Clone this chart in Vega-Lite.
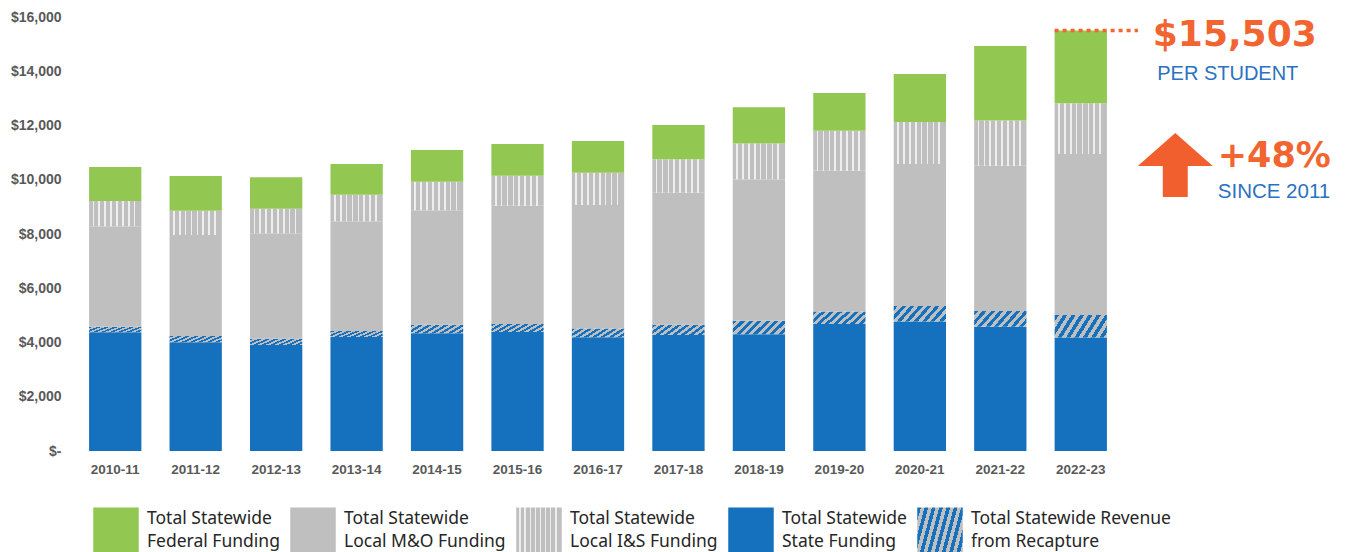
{
  "$schema": "https://vega.github.io/schema/vega-lite/v6.json",
  "width": 1046,
  "height": 434,
  "autosize": {"type": "none"},
  "padding": {"left": 75, "top": 17, "right": 227, "bottom": 101},
  "background": "white",
  "datasets": {
    "funding": [
      {"year": "2010-11", "series": "Total Statewide State Funding", "amount": 4380},
      {"year": "2010-11", "series": "Total Statewide Revenue from Recapture", "amount": 200},
      {"year": "2010-11", "series": "Total Statewide Local M&O Funding", "amount": 3710},
      {"year": "2010-11", "series": "Total Statewide Local I&S Funding", "amount": 930},
      {"year": "2010-11", "series": "Total Statewide Federal Funding", "amount": 1250},
      {"year": "2011-12", "series": "Total Statewide State Funding", "amount": 4010},
      {"year": "2011-12", "series": "Total Statewide Revenue from Recapture", "amount": 230},
      {"year": "2011-12", "series": "Total Statewide Local M&O Funding", "amount": 3720},
      {"year": "2011-12", "series": "Total Statewide Local I&S Funding", "amount": 900},
      {"year": "2011-12", "series": "Total Statewide Federal Funding", "amount": 1280},
      {"year": "2012-13", "series": "Total Statewide State Funding", "amount": 3910},
      {"year": "2012-13", "series": "Total Statewide Revenue from Recapture", "amount": 230},
      {"year": "2012-13", "series": "Total Statewide Local M&O Funding", "amount": 3890},
      {"year": "2012-13", "series": "Total Statewide Local I&S Funding", "amount": 900},
      {"year": "2012-13", "series": "Total Statewide Federal Funding", "amount": 1160},
      {"year": "2013-14", "series": "Total Statewide State Funding", "amount": 4200},
      {"year": "2013-14", "series": "Total Statewide Revenue from Recapture", "amount": 220},
      {"year": "2013-14", "series": "Total Statewide Local M&O Funding", "amount": 4050},
      {"year": "2013-14", "series": "Total Statewide Local I&S Funding", "amount": 980},
      {"year": "2013-14", "series": "Total Statewide Federal Funding", "amount": 1130},
      {"year": "2014-15", "series": "Total Statewide State Funding", "amount": 4340},
      {"year": "2014-15", "series": "Total Statewide Revenue from Recapture", "amount": 310},
      {"year": "2014-15", "series": "Total Statewide Local M&O Funding", "amount": 4230},
      {"year": "2014-15", "series": "Total Statewide Local I&S Funding", "amount": 1050},
      {"year": "2014-15", "series": "Total Statewide Federal Funding", "amount": 1170},
      {"year": "2015-16", "series": "Total Statewide State Funding", "amount": 4390},
      {"year": "2015-16", "series": "Total Statewide Revenue from Recapture", "amount": 290},
      {"year": "2015-16", "series": "Total Statewide Local M&O Funding", "amount": 4360},
      {"year": "2015-16", "series": "Total Statewide Local I&S Funding", "amount": 1110},
      {"year": "2015-16", "series": "Total Statewide Federal Funding", "amount": 1170},
      {"year": "2016-17", "series": "Total Statewide State Funding", "amount": 4190},
      {"year": "2016-17", "series": "Total Statewide Revenue from Recapture", "amount": 330},
      {"year": "2016-17", "series": "Total Statewide Local M&O Funding", "amount": 4550},
      {"year": "2016-17", "series": "Total Statewide Local I&S Funding", "amount": 1190},
      {"year": "2016-17", "series": "Total Statewide Federal Funding", "amount": 1170},
      {"year": "2017-18", "series": "Total Statewide State Funding", "amount": 4280},
      {"year": "2017-18", "series": "Total Statewide Revenue from Recapture", "amount": 370},
      {"year": "2017-18", "series": "Total Statewide Local M&O Funding", "amount": 4870},
      {"year": "2017-18", "series": "Total Statewide Local I&S Funding", "amount": 1240},
      {"year": "2017-18", "series": "Total Statewide Federal Funding", "amount": 1260},
      {"year": "2018-19", "series": "Total Statewide State Funding", "amount": 4300},
      {"year": "2018-19", "series": "Total Statewide Revenue from Recapture", "amount": 500},
      {"year": "2018-19", "series": "Total Statewide Local M&O Funding", "amount": 5220},
      {"year": "2018-19", "series": "Total Statewide Local I&S Funding", "amount": 1320},
      {"year": "2018-19", "series": "Total Statewide Federal Funding", "amount": 1330},
      {"year": "2019-20", "series": "Total Statewide State Funding", "amount": 4680},
      {"year": "2019-20", "series": "Total Statewide Revenue from Recapture", "amount": 460},
      {"year": "2019-20", "series": "Total Statewide Local M&O Funding", "amount": 5190},
      {"year": "2019-20", "series": "Total Statewide Local I&S Funding", "amount": 1480},
      {"year": "2019-20", "series": "Total Statewide Federal Funding", "amount": 1390},
      {"year": "2020-21", "series": "Total Statewide State Funding", "amount": 4770},
      {"year": "2020-21", "series": "Total Statewide Revenue from Recapture", "amount": 580},
      {"year": "2020-21", "series": "Total Statewide Local M&O Funding", "amount": 5230},
      {"year": "2020-21", "series": "Total Statewide Local I&S Funding", "amount": 1550},
      {"year": "2020-21", "series": "Total Statewide Federal Funding", "amount": 1770},
      {"year": "2021-22", "series": "Total Statewide State Funding", "amount": 4580},
      {"year": "2021-22", "series": "Total Statewide Revenue from Recapture", "amount": 580},
      {"year": "2021-22", "series": "Total Statewide Local M&O Funding", "amount": 5360},
      {"year": "2021-22", "series": "Total Statewide Local I&S Funding", "amount": 1660},
      {"year": "2021-22", "series": "Total Statewide Federal Funding", "amount": 2750},
      {"year": "2022-23", "series": "Total Statewide State Funding", "amount": 4180},
      {"year": "2022-23", "series": "Total Statewide Revenue from Recapture", "amount": 830},
      {"year": "2022-23", "series": "Total Statewide Local M&O Funding", "amount": 5940},
      {"year": "2022-23", "series": "Total Statewide Local I&S Funding", "amount": 1870},
      {"year": "2022-23", "series": "Total Statewide Federal Funding", "amount": 2683}
    ],
    "callout": [
      {"year": "2022-23", "per_student": 15503, "headline": "$15,503", "headline_note": "PER STUDENT", "growth": "+48%", "growth_note": "SINCE 2011"}
    ]
  },
  "layer": [
    {
      "data": {"name": "funding"},
      "mark": {"type": "bar"},
      "encoding": {
        "x": {
          "field": "year", "type": "nominal", "sort": null,
          "scale": {"paddingInner": 0.35, "paddingOuter": 0.175},
          "axis": {"title": null, "labelAngle": 0, "domain": false, "ticks": false, "grid": false,
                   "labelFont": "Liberation Sans", "labelFontWeight": "bold", "labelFontSize": 13.5,
                   "labelColor": "#595959", "labelPadding": 11}
        },
        "y": {
          "field": "amount", "type": "quantitative", "stack": "zero",
          "scale": {"domain": [0, 16000], "nice": false},
          "axis": {"title": null, "values": [0, 2000, 4000, 6000, 8000, 10000, 12000, 14000, 16000],
                   "labelExpr": "datum.value == 0 ? '$-' : '$' + format(datum.value, ',')",
                   "domain": false, "ticks": false, "grid": false,
                   "labelFont": "Liberation Sans", "labelFontWeight": "bold", "labelFontSize": 14,
                   "labelColor": "#595959", "labelPadding": 14}
        },
        "fill": {
          "field": "series", "type": "nominal",
          "scale": {
            "domain": ["Total Statewide Federal Funding", "Total Statewide Local M&O Funding", "Total Statewide Local I&S Funding", "Total Statewide State Funding", "Total Statewide Revenue from Recapture"],
            "range": [
              "#92C852",
              "#BFBFBF",
              {"expr": "{gradient: 'linear', x1: 0, y1: 0, x2: 1, y2: 0, stops: [{offset: 0, color: '#BFBFBF'}, {offset: 0.067, color: '#BFBFBF'}, {offset: 0.067, color: '#EEEEEE'}, {offset: 0.099, color: '#EEEEEE'}, {offset: 0.099, color: '#BFBFBF'}, {offset: 0.18, color: '#BFBFBF'}, {offset: 0.18, color: '#EEEEEE'}, {offset: 0.212, color: '#EEEEEE'}, {offset: 0.212, color: '#BFBFBF'}, {offset: 0.292, color: '#BFBFBF'}, {offset: 0.292, color: '#EEEEEE'}, {offset: 0.324, color: '#EEEEEE'}, {offset: 0.324, color: '#BFBFBF'}, {offset: 0.405, color: '#BFBFBF'}, {offset: 0.405, color: '#EEEEEE'}, {offset: 0.437, color: '#EEEEEE'}, {offset: 0.437, color: '#BFBFBF'}, {offset: 0.517, color: '#BFBFBF'}, {offset: 0.517, color: '#EEEEEE'}, {offset: 0.549, color: '#EEEEEE'}, {offset: 0.549, color: '#BFBFBF'}, {offset: 0.63, color: '#BFBFBF'}, {offset: 0.63, color: '#EEEEEE'}, {offset: 0.662, color: '#EEEEEE'}, {offset: 0.662, color: '#BFBFBF'}, {offset: 0.742, color: '#BFBFBF'}, {offset: 0.742, color: '#EEEEEE'}, {offset: 0.774, color: '#EEEEEE'}, {offset: 0.774, color: '#BFBFBF'}, {offset: 0.855, color: '#BFBFBF'}, {offset: 0.855, color: '#EEEEEE'}, {offset: 0.887, color: '#EEEEEE'}, {offset: 0.887, color: '#BFBFBF'}, {offset: 1, color: '#BFBFBF'}]}"},
              "#1570BD",
              {"expr": "{gradient: 'linear', x1: 0, y1: 0, x2: 1.2, y2: 0.32, stops: [{offset: 0, color: '#1570BD'}, {offset: 0.0625, color: '#1570BD'}, {offset: 0.0625, color: '#BFBFBF'}, {offset: 0.125, color: '#BFBFBF'}, {offset: 0.125, color: '#1570BD'}, {offset: 0.1875, color: '#1570BD'}, {offset: 0.1875, color: '#BFBFBF'}, {offset: 0.25, color: '#BFBFBF'}, {offset: 0.25, color: '#1570BD'}, {offset: 0.3125, color: '#1570BD'}, {offset: 0.3125, color: '#BFBFBF'}, {offset: 0.375, color: '#BFBFBF'}, {offset: 0.375, color: '#1570BD'}, {offset: 0.4375, color: '#1570BD'}, {offset: 0.4375, color: '#BFBFBF'}, {offset: 0.5, color: '#BFBFBF'}, {offset: 0.5, color: '#1570BD'}, {offset: 0.5625, color: '#1570BD'}, {offset: 0.5625, color: '#BFBFBF'}, {offset: 0.625, color: '#BFBFBF'}, {offset: 0.625, color: '#1570BD'}, {offset: 0.6875, color: '#1570BD'}, {offset: 0.6875, color: '#BFBFBF'}, {offset: 0.75, color: '#BFBFBF'}, {offset: 0.75, color: '#1570BD'}, {offset: 0.8125, color: '#1570BD'}, {offset: 0.8125, color: '#BFBFBF'}, {offset: 0.875, color: '#BFBFBF'}, {offset: 0.875, color: '#1570BD'}, {offset: 0.9375, color: '#1570BD'}, {offset: 0.9375, color: '#BFBFBF'}, {offset: 1, color: '#BFBFBF'}]}"}
            ]
          },
          "legend": {
            "title": null, "orient": "none", "legendX": 18, "legendY": 490,
            "direction": "horizontal", "columns": 5, "padding": 0,
            "symbolType": "square", "symbolSize": 2070, "symbolStrokeWidth": 0, "symbolOpacity": 1,
            "labelFont": "Noto Sans", "labelFontSize": 17.5, "labelColor": "#262626",
            "labelBaseline": "line-bottom",
            "labelOffset": 8, "columnPadding": 10, "labelLimit": 400,
            "labelExpr": "indexof(datum.label, 'Revenue') > 0 ? [slice(datum.label, 0, 23), slice(datum.label, 24)] : [slice(datum.label, 0, 15), slice(datum.label, 16)]"
          }
        },
        "order": {"field": "series", "sort": "descending"}
      }
    },
    {
      "data": {"name": "callout"},
      "mark": {"type": "rule", "color": "#F26531", "strokeWidth": 3.5, "strokeDash": [4, 4], "x2Offset": 31},
      "encoding": {
        "x": {"field": "year", "type": "nominal", "bandPosition": 0},
        "x2": {"field": "year", "bandPosition": 1},
        "y": {"field": "per_student", "type": "quantitative"}
      }
    },
    {
      "data": {"name": "callout"},
      "mark": {"type": "text", "align": "center", "baseline": "alphabetic", "dx": 154, "dy": 16,
               "font": "DejaVu Sans", "fontWeight": "bold", "fontSize": 36, "color": "#F26531"},
      "encoding": {
        "x": {"field": "year", "type": "nominal"},
        "y": {"field": "per_student", "type": "quantitative"},
        "text": {"field": "headline"}
      }
    },
    {
      "data": {"name": "callout"},
      "mark": {"type": "text", "align": "center", "baseline": "alphabetic", "dx": 147, "dy": 49.5,
               "font": "Liberation Sans", "fontSize": 20, "color": "#2A72C2"},
      "encoding": {
        "x": {"field": "year", "type": "nominal"},
        "y": {"field": "per_student", "type": "quantitative"},
        "text": {"field": "headline_note"}
      }
    },
    {
      "data": {"name": "callout"},
      "mark": {"type": "point", "shape": "M0,-0.853L1,0.027L0.333,0.027L0.333,0.853L-0.333,0.853L-0.333,0.027L-1,0.027Z",
               "size": 5625, "filled": true, "color": "#F15F2E", "opacity": 1, "strokeWidth": 0,
               "xOffset": 94.5, "yOffset": 134.5},
      "encoding": {
        "x": {"field": "year", "type": "nominal"},
        "y": {"field": "per_student", "type": "quantitative"}
      }
    },
    {
      "data": {"name": "callout"},
      "mark": {"type": "text", "align": "left", "baseline": "alphabetic", "dx": 137, "dy": 136.5,
               "font": "DejaVu Sans", "fontWeight": "bold", "fontSize": 35, "color": "#F26531"},
      "encoding": {
        "x": {"field": "year", "type": "nominal"},
        "y": {"field": "per_student", "type": "quantitative"},
        "text": {"field": "growth"}
      }
    },
    {
      "data": {"name": "callout"},
      "mark": {"type": "text", "align": "left", "baseline": "alphabetic", "dx": 137, "dy": 167.5,
               "font": "Liberation Sans", "fontSize": 20.5, "color": "#2A72C2"},
      "encoding": {
        "x": {"field": "year", "type": "nominal"},
        "y": {"field": "per_student", "type": "quantitative"},
        "text": {"field": "growth_note"}
      }
    }
  ],
  "config": {
    "view": {"stroke": null},
    "style": {"guide-label": {"lineHeight": 23}}
  }
}
